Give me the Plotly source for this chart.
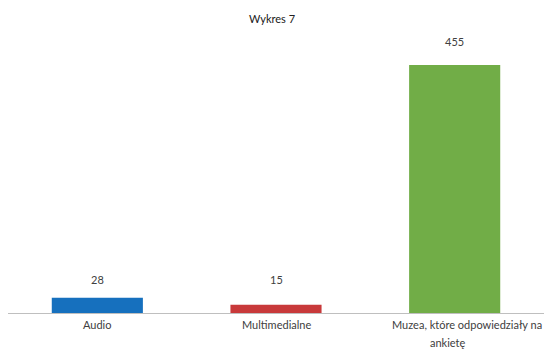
import plotly.graph_objects as go

categories = ["Audio", "Multimedialne", "Muzea, które odpowiedziały na ankietę"]
values = [28, 15, 455]
colors = ["#1670BE", "#C8393A", "#71AD47"]
label_shift = [18, 25, 24]

# category label lines: (text, x offset in px, y offset below axis in px)
label_lines = [
    [("Audio", 0, 11)],
    [("Multimedialne", 0, 11)],
    [("Muzea, które odpowiedziały na", 12, 11), ("ankietę", -7, 29)],
]

fig = go.Figure()
fig.add_trace(go.Bar(
    x=list(range(len(categories))),
    y=values,
    width=0.51,
    marker=dict(color=colors, line=dict(width=0)),
    hoverinfo="skip",
))

font = dict(family="Lato", size=11, color="#404040")

for i, v in enumerate(values):
    fig.add_annotation(
        x=i, y=v, text=str(v), showarrow=False,
        yanchor="middle", yshift=label_shift[i], font=font,
    )

for i, lines in enumerate(label_lines):
    for text, dx, dy in lines:
        fig.add_annotation(
            x=i, xref="x", y=0, yref="y", text=text, showarrow=False,
            yanchor="middle", xshift=dx, yshift=-dy, font=font,
        )

fig.update_layout(
    width=544, height=358,
    margin=dict(l=8, r=0, t=30, b=45),
    paper_bgcolor="white", plot_bgcolor="white",
    showlegend=False,
    title=dict(text="Wykres 7", x=0.5, xanchor="center", y=1 - 19 / 358,
               yanchor="middle",
               font=dict(family="Lato", size=11, color="#202020")),
    xaxis=dict(
        range=[-0.5, 2.5],
        tickvals=list(range(len(categories))), showticklabels=False,
        showline=True, linecolor="#BFBFBF", linewidth=1,
        showgrid=False, zeroline=False, ticks="",
    ),
    yaxis=dict(
        range=[0, 455 * 283 / 248],
        visible=False, showgrid=False, zeroline=False,
    ),
)

fig.write_html("out.html")
